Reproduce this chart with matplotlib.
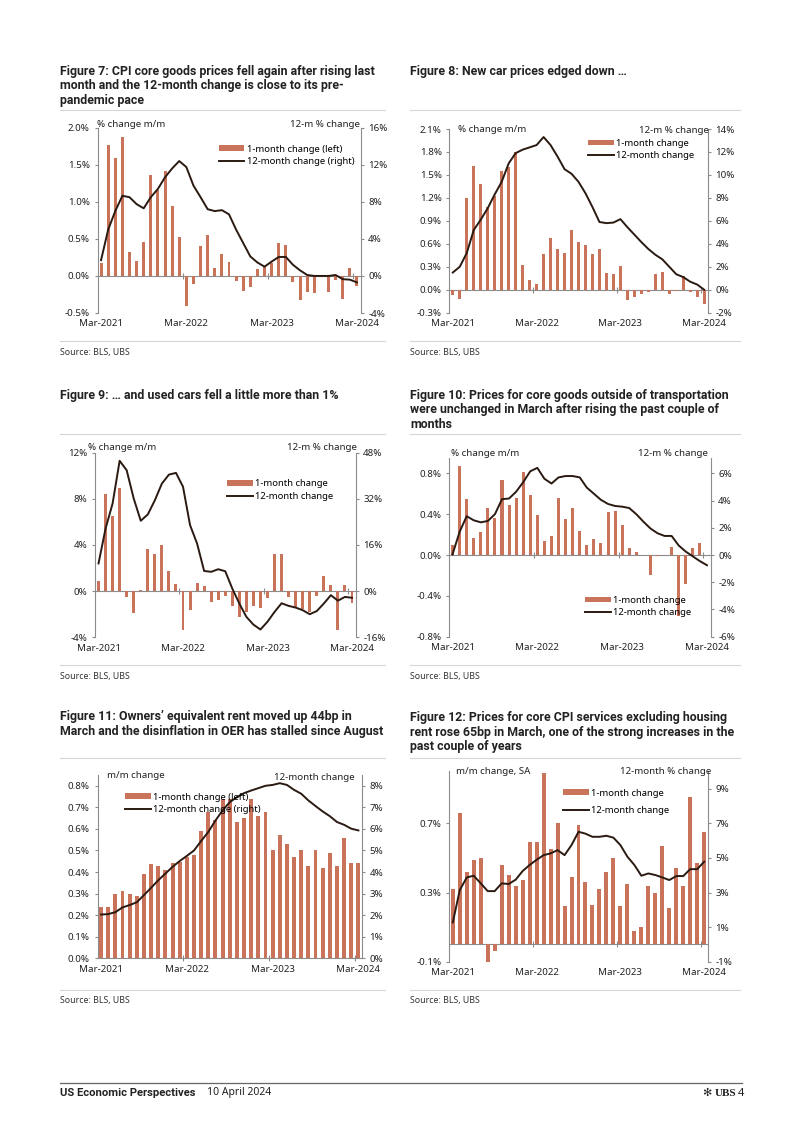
import numpy as np
import pandas as pd
import matplotlib
matplotlib.use('Agg')
import matplotlib.pyplot as plt
from matplotlib.patches import Patch
from matplotlib.lines import Line2D

plt.rcParams['font.family'] = ['Noto Sans', 'DejaVu Sans']
BOLD_FONT = ['Roboto', 'DejaVu Sans']

# monthly observations, Mar-2021 .. Mar-2024
months = pd.date_range('2021-03-01', '2024-03-01', freq='MS')
label_months = ['Mar-2021', 'Mar-2022', 'Mar-2023', 'Mar-2024']

# Figure 7: CPI core goods
core_goods_mm = [0.18, 1.77, 1.59, 1.88, 0.32, 0.20, 0.46, 1.36, 1.16, 1.41,
                 0.95, 0.53, -0.40, -0.11, 0.40, 0.55, 0.11, 0.29, 0.19, -0.07,
                 -0.20, -0.15, 0.10, 0.13, 0.17, 0.44, 0.42, -0.08, -0.32, -0.21,
                 -0.23, -0.02, -0.21, -0.06, -0.31, 0.11, -0.14]
core_goods_yy = [1.7, 5.0, 7.0, 8.65, 8.5, 7.75, 7.3, 8.5, 9.4, 10.65,
                 11.6, 12.4, 11.75, 9.75, 8.5, 7.2, 7.0, 7.1, 6.65, 5.0,
                 3.55, 2.1, 1.45, 1.0, 1.55, 2.05, 2.05, 1.2, 0.6, 0.1,
                 0.0, 0.0, 0.0, 0.1, -0.35, -0.4, -0.7]

# Figure 8: new cars
new_cars_mm = [-0.07, -0.12, 1.20, 1.62, 1.38, 1.08, 1.22, 1.55, 1.60, 1.80,
               0.32, 0.13, 0.07, 0.47, 0.67, 0.53, 0.48, 0.78, 0.62, 0.59,
               0.47, 0.53, 0.22, 0.20, 0.31, -0.14, -0.09, -0.05, -0.03, 0.21,
               0.23, -0.06, -0.01, 0.18, -0.03, -0.10, -0.18]
new_cars_yy = [1.5, 2.0, 3.2, 5.2, 6.1, 7.1, 8.3, 9.4, 11.0, 11.9,
               12.2, 12.4, 12.6, 13.3, 12.6, 11.6, 10.5, 10.1, 9.4, 8.4,
               7.2, 5.9, 5.8, 5.85, 6.15, 5.45, 4.8, 4.15, 3.55, 3.05,
               2.65, 2.0, 1.35, 1.1, 0.7, 0.45, 0.0]

# Figure 9: used cars
used_cars_mm = [0.84, 8.43, 6.50, 8.90, -0.55, -1.88, 0.06, 3.61, 3.18, 4.04,
                1.76, 0.61, -3.38, -1.62, 0.69, 0.46, -0.98, -0.81, -0.38, -1.33,
                -2.25, -1.79, -1.33, -1.42, -0.58, 3.18, 3.18, -0.55, -1.36, -1.55,
                -1.79, -0.40, 1.33, 0.55, -3.38, 0.49, -1.07]
used_cars_yy = [9.6, 21.7, 30.4, 45.2, 41.9, 32.1, 24.4, 26.6, 31.5, 37.3,
                40.4, 41.0, 36.2, 22.9, 16.5, 7.0, 6.7, 7.6, 6.9, 0.9,
                -4.3, -8.9, -11.6, -13.3, -10.6, -7.2, -4.2, -5.1, -5.7, -6.6,
                -8.0, -6.9, -4.3, -1.4, -3.3, -2.0, -2.3]

# Figure 10: core goods ex transportation
ex_transport_mm = [0.10, 0.87, 0.55, 0.17, 0.23, 0.46, 0.36, 0.73, 0.49, 0.56,
                   0.81, 0.59, 0.39, 0.14, 0.19, 0.56, 0.35, 0.46, 0.24, 0.10,
                   0.16, 0.12, 0.42, 0.43, 0.29, 0.07, 0.03, 0.00, -0.20, -0.01,
                   0.00, 0.08, -0.60, -0.28, 0.07, 0.12, 0.00]
ex_transport_yy = [0.05, 1.7, 2.85, 2.55, 2.4, 2.5, 3.0, 4.1, 4.15, 4.65,
                   5.35, 6.15, 6.4, 5.6, 5.25, 5.7, 5.8, 5.8, 5.7, 4.95,
                   4.5, 4.05, 3.75, 3.6, 3.55, 3.45, 3.0, 2.45, 1.95, 1.6,
                   1.4, 1.4, 0.7, 0.25, -0.1, -0.45, -0.75]

# Figure 11: owners' equivalent rent
oer_mm = [0.24, 0.24, 0.30, 0.31, 0.30, 0.29, 0.39, 0.435, 0.43, 0.41,
          0.44, 0.445, 0.47, 0.48, 0.59, 0.68, 0.64, 0.74, 0.74, 0.63,
          0.65, 0.74, 0.66, 0.68, 0.50, 0.57, 0.53, 0.47, 0.50, 0.43,
          0.50, 0.42, 0.49, 0.43, 0.56, 0.44, 0.44]
oer_yy = [2.03, 2.05, 2.14, 2.36, 2.47, 2.6, 2.93, 3.27, 3.62, 3.93,
          4.24, 4.51, 4.75, 5.0, 5.44, 5.86, 6.39, 6.86, 7.24, 7.47,
          7.66, 7.78, 7.89, 8.0, 8.04, 8.12, 8.04, 7.81, 7.63, 7.32,
          7.06, 6.81, 6.59, 6.32, 6.19, 6.01, 5.93]

# Figure 12: core services ex housing rent
supercore_mm = [0.32, 0.76, 0.42, 0.49, 0.50, -0.10, -0.04, 0.46, 0.40, 0.34,
                0.37, 0.59, 0.59, 0.99, 0.55, 0.70, 0.22, 0.39, 0.69, 0.36,
                0.23, 0.32, 0.42, 0.50, 0.22, 0.35, 0.08, 0.10, 0.34, 0.30,
                0.57, 0.21, 0.44, 0.34, 0.85, 0.47, 0.65]
supercore_yy = [1.27, 3.14, 3.87, 3.97, 3.53, 3.08, 3.08, 3.53, 3.49, 3.74,
                4.24, 4.59, 4.89, 5.16, 5.26, 5.45, 5.16, 5.74, 6.51, 6.40,
                6.22, 6.22, 6.28, 6.17, 5.74, 5.07, 4.59, 3.97, 4.10, 4.01,
                3.87, 3.72, 3.95, 3.95, 4.35, 4.35, 4.78]

BAR = '#c8735a'
LINE = '#2a1a12'
AXIS = '#8c8c8c'
RULE = '#d6d6d6'
TXT = '#222222'
FS = 7
W, H = 802, 1134

fig = plt.figure(figsize=(W / 100, H / 100), dpi=100)


def fx(x):
    return x / W


def fy(y):
    return 1 - y / H


def put_text(x, y, s, **kw):
    kw.setdefault('va', 'center')
    kw.setdefault('color', TXT)
    fig.text(fx(x), fy(y), s, **kw)


def rule(x0, x1, y, color=RULE, lw=0.8):
    fig.add_artist(Line2D([fx(x0), fx(x1)], [fy(y), fy(y)], color=color, lw=lw,
                          transform=fig.transFigure))


def chart(box, mm, yy, ylim, y2lim, yt, y2t, fmt, fmt2, names, leg_xy,
          width=0.45, spacing=0.35):
    left, top, right, bottom = box
    ax = fig.add_axes([fx(left), fy(bottom), (right - left) / W, (bottom - top) / H])
    x = np.arange(len(months))
    ax.bar(x, mm, width=width, color=BAR, linewidth=0)
    ax.set_xlim(-0.5, len(months) - 0.5)
    ax.set_ylim(ylim)
    ax.set_yticks(yt, [fmt.format(v) for v in yt])
    ax.set_xticks(x[::12], label_months)
    ax.tick_params(axis='x', length=0, pad=4.5, labelsize=FS, labelcolor=TXT)
    ax.tick_params(axis='y', length=2.5, width=0.8, color=AXIS, pad=3,
                   labelsize=FS, labelcolor=TXT)
    for s in ['top', 'bottom', 'right']:
        ax.spines[s].set_visible(False)
    ax.spines['left'].set_color(AXIS)
    ax.spines['left'].set_linewidth(0.8)

    # zero line with year separators
    zero = (0 - ylim[0]) / (ylim[1] - ylim[0])
    sec = ax.secondary_xaxis(zero)
    sec.set_xticks(x[::12][1:] - 0.5)
    sec.xaxis.set_ticks_position('bottom')
    sec.tick_params(direction='inout', length=5, width=0.8, color=AXIS,
                    labelbottom=False, labeltop=False)
    for s in sec.spines.values():
        s.set_color(AXIS)
        s.set_linewidth(0.8)

    ax2 = ax.twinx()
    ax2.plot(x, yy, color=LINE, lw=1.4)
    ax2.set_ylim(y2lim)
    ax2.set_yticks(y2t, [fmt2.format(v) for v in y2t])
    ax2.tick_params(axis='y', length=2.5, width=0.8, color=AXIS, pad=3,
                    labelsize=FS, labelcolor=TXT)
    for s in ['top', 'bottom', 'left']:
        ax2.spines[s].set_visible(False)
    ax2.spines['right'].set_color(AXIS)
    ax2.spines['right'].set_linewidth(0.8)

    handles = [Patch(facecolor=BAR, edgecolor='none'), Line2D([], [], color=LINE, lw=1.4)]
    ax2.legend(handles, names, loc='upper left',
               bbox_to_anchor=(fx(leg_xy[0]), fy(leg_xy[1])),
               bbox_transform=fig.transFigure, frameon=False, fontsize=6.8,
               handlelength=2.7, handleheight=0.5, handletextpad=0.3,
               labelspacing=spacing, borderpad=0, borderaxespad=0)
    return ax, ax2


def title(x, y, lines):
    for i, s in enumerate(lines):
        put_text(x, y + i * 14.8, s, weight='bold', size=8.9, family=BOLD_FONT)


names_lr = ['1-month change (left)', '12-month change (right)']
names = ['1-month change', '12-month change']

# ---- Figure 7
title(60, 71, ['Figure 7: CPI core goods prices fell again after rising last',
               'month and the 12-month change is close to its pre-',
               'pandemic pace'])
chart((97.5, 127.7, 360.5, 313), core_goods_mm, core_goods_yy, (-0.5, 2.0), (-4, 16),
      [-0.5, 0.0, 0.5, 1.0, 1.5, 2.0], [-4, 0, 4, 8, 12, 16], '{:.1f}%', '{:.0f}%',
      names_lr, (219, 144.5), width=0.42)
put_text(97, 124.3, '% change m/m', size=FS)
put_text(360, 124.3, '12-m % change', size=FS, ha='right')

# ---- Figure 8
title(410, 71.7, ['Figure 8: New car prices edged down …'])
chart((449.3, 129, 707.7, 312.7), new_cars_mm, new_cars_yy, (-0.3, 2.1), (-2, 14),
      [-0.3, 0.0, 0.3, 0.6, 0.9, 1.2, 1.5, 1.8, 2.1], [-2, 0, 2, 4, 6, 8, 10, 12, 14],
      '{:.1f}%', '{:.0f}%', names, (588, 139), width=0.4)
put_text(458, 129, '% change m/m', size=FS)
put_text(709, 130.3, '12-m % change', size=FS, ha='right')

# ---- Figure 9
title(60, 395, ['Figure 9: … and used cars fell a little more than 1%'])
chart((95, 452.7, 355.5, 637.3), used_cars_mm, used_cars_yy, (-4, 12), (-16, 48),
      [-4, 0, 4, 8, 12], [-16, 0, 16, 32, 48], '{:.0f}%', '{:.0f}%',
      names, (227, 479.5), width=0.42)
put_text(87.7, 447.7, '% change m/m', size=FS)
put_text(356.7, 447.7, '12-m % change', size=FS, ha='right')

# ---- Figure 10
title(410, 395, ['Figure 10: Prices for core goods outside of transportation',
                 'were unchanged in March after rising the past couple of',
                 'months'])
chart((449, 458, 710.5, 636.7), ex_transport_mm, ex_transport_yy, (-0.8, 0.95), (-6, 7.125),
      [-0.8, -0.4, 0.0, 0.4, 0.8], [-6, -4, -2, 0, 2, 4, 6], '{:.1f}%', '{:.0f}%',
      names, (585, 596), width=0.43)
put_text(451, 454, '% change m/m', size=FS)
put_text(708.3, 454, '12-m % change', size=FS, ha='right')

# ---- Figure 11
title(60, 716.7, ['Figure 11: Owners’ equivalent rent moved up 44bp in',
                  'March and the disinflation in OER has stalled since August'])
chart((97.5, 775, 362, 958.3), oer_mm, oer_yy, (0, 0.85), (0, 8.5),
      [0.0, 0.1, 0.2, 0.3, 0.4, 0.5, 0.6, 0.7, 0.8], [0, 1, 2, 3, 4, 5, 6, 7, 8],
      '{:.1f}%', '{:.0f}%', names_lr, (125, 792.5), width=0.55)
put_text(106.7, 776, 'm/m change', size=FS)
put_text(274, 778, '12-month change', size=FS)

# ---- Figure 12
title(410, 717.3, ['Figure 12: Prices for core CPI services excluding housing',
                   'rent rose 65bp in March, one of the strong increases in the',
                   'past couple of years'])
chart((449.3, 771.4, 707.7, 961.7), supercore_mm, supercore_yy, (-0.1, 1.0), (-1, 10),
      [-0.1, 0.3, 0.7], [-1, 1, 3, 5, 7, 9], '{:.1f}%', '{:.0f}%',
      names, (563, 788.5), width=0.57, spacing=0.85)
put_text(455.7, 771, 'm/m change, SA', size=FS)
put_text(711, 771, '12-month % change', size=FS, ha='right')

# rules and sources
for x0, x1 in [(60, 385), (410, 740)]:
    for y_top, y_bot, y_src in [(110, 341, 352), (434, 665, 676), (758, 990, 1000)]:
        rule(x0, x1, y_top)
        rule(x0, x1, y_bot)
        put_text(x0, y_src, 'Source: BLS, UBS', size=6.3, color='#333333')

# footer
rule(60, 742, 1083, color='#666666', lw=0.9)
put_text(60, 1093, 'US Economic Perspectives', size=8.15, weight='bold', family=BOLD_FONT)
put_text(207, 1093, '10 April 2024', size=7.5)
put_text(707, 1093, '✻', size=8, family='DejaVu Sans', ha='center')
put_text(715, 1093, 'UBS', size=8, family='Liberation Serif', weight='bold')
put_text(738, 1093, '4', size=8)

fig.savefig('out.png', dpi=100)
